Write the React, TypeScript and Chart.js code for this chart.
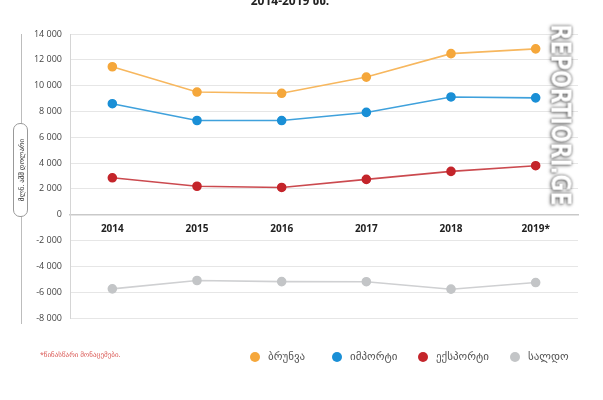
import React, { useEffect, useRef } from 'react';
import { Chart, registerables } from 'chart.js';
Chart.register(...registerables);

const years = ['2014', '2015', '2016', '2017', '2018', '2019*'];
const turnover = [11463, 9505, 9407, 10662, 12479, 12851];
const imports = [8602, 7300, 7294, 7925, 9123, 9053];
const exportsData = [2861, 2205, 2113, 2737, 3356, 3798];
const balance = [-5741, -5095, -5181, -5188, -5767, -5255];
const seriesNames = ['ბრუნვა', 'იმპორტი', 'ექსპორტი', 'სალდო'];
const seriesColors = ['#F5A73B', '#1A8FD6', '#C4252B', '#C3C5C7'];
const lineColors = ['#F7B75E', '#3FA1DC', '#CB4A4F', '#CFD0D2'];
const yMin = -8000;
const yMax = 14000;
const yStep = 2000;
const titleText = '2014-2019 წწ.';
const yAxisTitle = 'მლნ. აშშ დოლარი';
const footnote = '*წინასწარი მონაცემები.';
const watermark = 'REPORTIORI.GE';

const fontStack = '"Open Sans", "DejaVu Sans", sans-serif';

function fmt(v: number): string {
  const s = Math.abs(v).toString().replace(/\B(?=(\d{3})+(?!\d))/g, ' ');
  return (v < 0 ? '-' : '') + s;
}

export default function App() {
  const ref = useRef<HTMLCanvasElement | null>(null);
  useEffect(() => {
    document.body.style.margin = '0';
    const all = [turnover, imports, exportsData, balance];
    const chart = new Chart(ref.current as HTMLCanvasElement, {
      type: 'line',
      data: {
        labels: years,
        datasets: all.map((d, i) => ({
          label: seriesNames[i],
          data: d,
          borderColor: lineColors[i],
          backgroundColor: seriesColors[i],
          pointBackgroundColor: seriesColors[i],
          pointBorderColor: seriesColors[i],
          pointRadius: 4,
          borderWidth: 1.6,
          tension: 0,
        })),
      },
      options: {
        animation: false,
        responsive: false,
        maintainAspectRatio: false,
        layout: { padding: { left: 0, top: 34, right: 25, bottom: 82 } },
        plugins: { legend: { display: false }, tooltip: { enabled: false } },
        scales: {
          x: {
            type: 'category',
            position: { y: 0 },
            offset: true,
            grid: { display: false, drawTicks: false },
            border: { display: true, color: '#C9C9C9', width: 1.5 },
            ticks: {
              padding: 8,
              color: '#222',
              font: { family: fontStack, size: 10, weight: 'bold' },
            },
          },
          y: {
            min: yMin,
            max: yMax,
            afterFit: (s: any) => { s.width = 70; },
            grid: { color: '#E6E6E6', lineWidth: 1, drawTicks: false },
            border: { display: true, color: '#D5D5D5', width: 1 },
            ticks: {
              stepSize: yStep,
              padding: 8,
              color: '#444',
              font: { family: fontStack, size: 9 },
              callback: (v: any) => fmt(Number(v)),
            },
          },
        },
      } as any,
    });
    return () => chart.destroy();
  }, []);

  const legendX = [255, 337, 423, 515];
  return (
    <div style={{ position: 'relative', width: 603, height: 400, overflow: 'hidden', background: '#fff', fontFamily: fontStack }}>
      <canvas ref={ref} width={603} height={400} style={{ position: 'absolute', left: 0, top: 0 }} />
      <div style={{ position: 'absolute', left: 0, width: 580, top: -8, textAlign: 'center', fontSize: 12, fontWeight: 'bold', color: '#222' }}>{titleText}</div>
      <div style={{ position: 'absolute', left: 21, top: 34, width: 1, height: 290, background: '#BDBDBD' }} />
      <div style={{ position: 'absolute', left: 13, top: 123, width: 15, height: 94, border: '1px solid #999', borderRadius: 7, background: '#fff', boxSizing: 'border-box' }}>
        <div style={{ position: 'absolute', left: '50%', top: '50%', transform: 'translate(-50%, -50%) rotate(-90deg)', whiteSpace: 'nowrap', fontSize: 7, color: '#333' }}>{yAxisTitle}</div>
      </div>
      <div style={{ position: 'absolute', left: 40, top: 350, fontSize: 7, color: '#D9534F' }}>{footnote}</div>
      {seriesNames.map((n, i) => (
        <div key={n} style={{ position: 'absolute', left: legendX[i] - 5, top: 350, display: 'flex', alignItems: 'center', whiteSpace: 'nowrap' }}>
          <span style={{ display: 'inline-block', width: 10, height: 10, borderRadius: 5, background: seriesColors[i], marginRight: 8 }} />
          <span style={{ fontSize: 11, color: '#555', fontFamily: '"DejaVu Sans", sans-serif' }}>{n}</span>
        </div>
      ))}
      <div style={{ position: 'absolute', left: 561, top: 115, transform: 'translate(-50%, -50%) rotate(90deg) scaleX(0.86)', whiteSpace: 'nowrap', fontSize: 27, fontWeight: 'bold', color: '#fff', fontFamily: '"DejaVu Sans Condensed", "Liberation Sans Narrow", sans-serif', letterSpacing: 0, textShadow: '0 0 3px #555, 1px 1px 4px #777' }}>{watermark}</div>
    </div>
  );
}
